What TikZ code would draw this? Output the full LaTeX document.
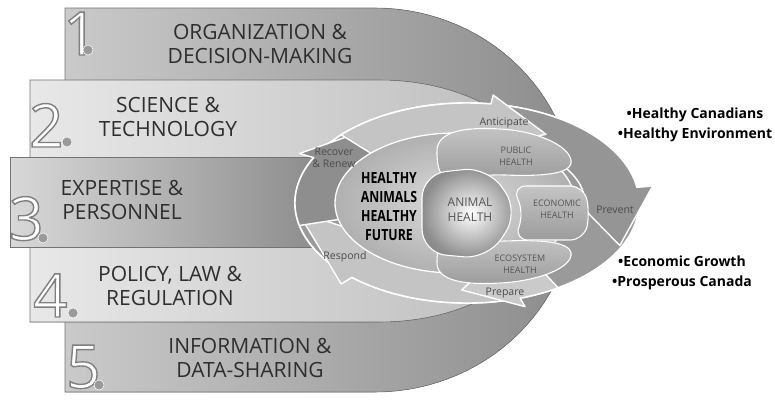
\documentclass[tikz,border=0pt]{standalone}
\usepackage{fontspec}
\usepackage{graphicx}
\setmainfont{Open Sans}
\usetikzlibrary{calc}
\definecolor{BandDark}{HTML}{8C8C8C}
\definecolor{BandLeft}{HTML}{CACACA}
\definecolor{BandMid}{HTML}{C4C4C4}
\definecolor{BandRight}{HTML}{BBBBBB}
\definecolor{BandPale}{HTML}{E8E8E8}
\definecolor{BandThree}{HTML}{D8D8D8}
\definecolor{RingGray}{HTML}{9A9A9A}
\definecolor{FieldLight}{HTML}{DCDCDC}
\definecolor{FieldDark}{HTML}{B0B0B0}
\definecolor{ArrowLight}{HTML}{C4C4C4}
\definecolor{ArrowPale}{HTML}{CACACA}
\definecolor{ArrowDark}{HTML}{8E8E8E}
\definecolor{ArrowMid}{HTML}{959595}
\definecolor{LobeTop}{HTML}{C4C4C4}
\definecolor{LobeBottom}{HTML}{9C9C9C}
\definecolor{TextGray}{HTML}{2E2E2E}
\definecolor{LabelGray}{HTML}{555555}
\definecolor{DotGray}{HTML}{9A9A9A}

\tikzset{
  bandshape/.style={draw=black!55, line width=0.6pt},
  bandlabel/.style={font=\fontsize{21}{24}\selectfont, text=TextGray, align=center},
  digit/.style={font=\fontsize{60}{60}\selectfont, text=white, anchor=base west, inner sep=0pt},
  digitdot/.style={fill=DotGray, draw=white, line width=0.5pt},
  ringarrow/.style={draw=white, line width=1.4pt, line join=round},
  lobe/.style={draw=white, line width=1.1pt, top color=LobeTop, bottom color=LobeBottom},
  lobelabel/.style={font=\fontsize{9}{12}\selectfont, text=LabelGray, align=center},
  arrowlabel/.style={font=\fontsize{10.5}{12.5}\selectfont, text=black!70, align=center},
  animallabel/.style={font=\fontsize{12}{15}\selectfont, text=LabelGray, align=center},
  motto/.style={font=\bfseries\fontsize{15.4}{19}\selectfont, text=black},
  goal/.style={font=\bfseries\fontsize{14}{20}\selectfont, text=black, align=center}
}

% hollow digit: white fill, grey stroke
\newcommand\hollow[1]{\special{pdf:literal direct 2 Tr 1.4 w 0.5 G}#1\special{pdf:literal direct 0 Tr}}

% arrow on the ring: fill, tail angle, head angle, tip angle, tip radii
\newcommand\ringarrow[5]{%
  \filldraw[ringarrow, fill=#1] (#2:172 and 100)
    -- plot[variable=\t, domain=#2:#3, samples=30] (\t:172 and 100)
    -- (#3:188 and 109) -- (#4:#5) -- (#3:104 and 56)
    -- plot[variable=\t, domain=#3:#2, samples=30] (\t:118 and 64)
    -- cycle;}

\begin{document}
\begin{tikzpicture}[x=1pt, y=-1pt]
    \useasboundingbox (0,0) rectangle (775,400);

    % Bands 1 and 5 with the large arc
    \filldraw[bandshape, left color=BandLeft, middle color=BandDark, right color=BandDark]
        (65,8) -- (375,8)
        -- plot[variable=\t, domain=270:450, samples=60] ({375+200*cos(\t)},{200+192*sin(\t)})
        -- (375,392) -- (65,392) -- cycle;

    % Bands 2 and 4 with the light arc
    \filldraw[bandshape, left color=BandPale, middle color=BandMid, right color=BandRight]
        (30,80) -- (380,80)
        -- plot[variable=\t, domain=270:450, samples=60] ({380+175*cos(\t)},{201+121*sin(\t)})
        -- (380,322) -- (30,322) -- cycle;

    % Band 3
    \filldraw[bandshape, left color=BandThree, right color=BandDark] (10,157) rectangle (320,247);

    % Ring
    \filldraw[draw=white, line width=1.8pt, fill=RingGray] (467,203) ellipse (172 and 100);
    \begin{scope}[shift={(467,203)}]
        \ringarrow{ArrowLight}{75}{132}{175}{170 and 98}
        \ringarrow{ArrowDark}{167}{207}{236}{160 and 93}
        \ringarrow{ArrowMid}{280}{351}{386}{170 and 97}
        \ringarrow{ArrowLight}{223}{278}{303}{145 and 82}
        \ringarrow{ArrowPale}{58}{72}{92}{152 and 87}
    \end{scope}

    % Inner field
    \filldraw[draw=white, line width=1.3pt, inner color=FieldLight, outer color=FieldDark]
        (455,203) ellipse (120 and 70);

    % Lobes
    \filldraw[lobe] (437,152) .. controls (436,130) and (468,127) .. (500,129)
        .. controls (540,131) and (573,148) .. (571,163)
        .. controls (569,176) and (532,176) .. (505,175)
        .. controls (482,174) and (468,179) .. (452,179)
        .. controls (440,179) and (437,168) .. (437,152) -- cycle;
    \filldraw[lobe] (437,262) .. controls (436,282) and (468,285) .. (500,283)
        .. controls (540,281) and (573,267) .. (571,253)
        .. controls (569,240) and (532,240) .. (505,241)
        .. controls (482,242) and (468,237) .. (452,237)
        .. controls (440,237) and (437,248) .. (437,262) -- cycle;
    \filldraw[lobe, rounded corners=14pt] (512,186) -- (584,186) -- (590,214)
        -- (584,240) -- (514,240) -- (524,213) -- cycle;
    \filldraw[draw=white, line width=1.1pt, inner color=white, outer color=BandDark, rounded corners=24pt]
        (422,174) -- (488,167) -- (519,212) -- (488,259) -- (422,253) -- cycle;

    % Digits
    \node[digit] (d1) at (63,55) {\hollow{1}};
    \node[digit] (d2) at (29,147) {\hollow{2}};
    \node[digit] (d3) at (9,240) {\hollow{3}};
    \node[digit] (d4) at (33,317) {\hollow{4}};
    \node[digit] (d5) at (66,388) {\hollow{5}};
    \filldraw[digitdot] (88,50) circle (5);
    \filldraw[digitdot] (67,142) circle (5);
    \filldraw[digitdot] (43,238) circle (5);
    \filldraw[digitdot] (73,313) circle (5);
    \filldraw[digitdot] (99,385) circle (5);

    % Band labels
    \node[bandlabel] (org) at (260,44) {ORGANIZATION \&\\DECISION-MAKING};
    \node[bandlabel] (sci) at (168,117) {SCIENCE \&\\TECHNOLOGY};
    \node[bandlabel] (exp) at (122,200) {EXPERTISE \&\\PERSONNEL};
    \node[bandlabel] (pol) at (170,286) {POLICY, LAW \&\\REGULATION};
    \node[bandlabel] (inf) at (250,358) {INFORMATION \&\\DATA-SHARING};

    % Ring labels
    \node[arrowlabel] (recover) at (334,158) {Recover\\\& Renew};
    \node[arrowlabel] (anticipate) at (504,123) {Anticipate};
    \node[arrowlabel] (prevent) at (615,210) {Prevent};
    \node[arrowlabel] (prepare) at (505,293) {Prepare};
    \node[arrowlabel] (respond) at (345,257) {Respond};
    \node[lobelabel] (public) at (516,156) {PUBLIC\\HEALTH};
    \node[lobelabel] (economic) at (557,209) {ECONOMIC\\HEALTH};
    \node[lobelabel] (ecosystem) at (520,264) {ECOSYSTEM\\HEALTH};
    \node[animallabel] (animal) at (470,210) {ANIMAL\\HEALTH};
    \node[motto] (future) at (389,208)
        {\scalebox{0.8}[1]{\begin{tabular}{@{}c@{}}HEALTHY\\ANIMALS\\HEALTHY\\FUTURE\end{tabular}}};

    % Outcomes
    \node[goal] (people) at (695,125) {•Healthy Canadians\\•Healthy Environment};
    \node[goal] (economy) at (682,273) {•Economic Growth\\•Prosperous Canada};
\end{tikzpicture}
\end{document}
